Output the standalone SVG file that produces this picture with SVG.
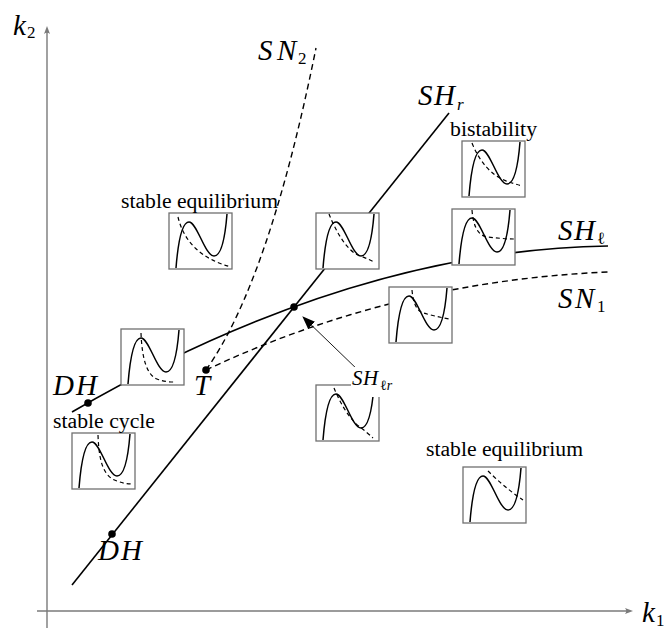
<svg xmlns="http://www.w3.org/2000/svg" xmlns:xlink="http://www.w3.org/1999/xlink" width="669" height="629" viewBox="0 0 669 629">
<style>
.axis{stroke:#7a7a7a;stroke-width:1.4;fill:none}
.axhead{fill:#7a7a7a;stroke:none}
.solid{stroke:#000;stroke-width:1.6;fill:none}
.dashed{stroke:#000;stroke-width:1.4;fill:none;stroke-dasharray:6 4}
.dot{fill:#000}
.box{fill:#fff;stroke:#707070;stroke-width:1.3}
.cub{stroke:#000;stroke-width:1.5;fill:none}
.idash{stroke:#000;stroke-width:1.2;fill:none;stroke-dasharray:4 3}
text{font-family:'Liberation Serif','DejaVu Serif','Noto Serif','Tinos','FreeSerif','Times New Roman',Times,serif;fill:#000}
.math{font-style:italic;font-size:29px}
.sub{font-style:normal;font-size:17px}
.subi{font-style:italic;font-size:17px}
.lbl{font-size:20px}
</style>
<defs>
<path id="cubic" class="cub" d="M7,55 C9,30 13,9 20,9 C28,9 36,43 45,43 C52,43 56,26 58,1"/>
<marker id="ah" markerWidth="14" markerHeight="10" refX="12" refY="5" orient="auto" markerUnits="userSpaceOnUse">
<path d="M0,0 L13,5 L0,10 Z" fill="#000"/>
</marker>
</defs>

<g id="axes">
<line class="axis" x1="47" y1="628" x2="47" y2="29"/>
<path class="axhead" d="M47,26 L44,34 Q47,31.5 50,34 Z"/>
<line class="axis" x1="37" y1="611" x2="630" y2="611"/>
<path class="axhead" d="M633,611 L625,608 Q627.5,611 625,614 Z"/>
<text class="math" x="13" y="35">k</text><text class="sub" x="27" y="38">2</text>
<text class="math" x="642" y="622">k</text><text class="sub" x="656" y="626">1</text>
</g>

<g id="connectors">
<path id="SHr" class="solid" d="M72,585 L449,113"/>
<path id="SHl" class="solid" d="M72,412 Q351,250 608,246"/>
<path id="SN1" class="dashed" d="M206,370 Q395,281 608,272"/>
<path id="SN2" class="dashed" d="M206,370 Q269,281 316,48"/>
<line x1="360" y1="372" x2="303" y2="317" stroke="#000" stroke-width="0.9" marker-end="url(#ah)"/>
</g>

<g id="points">
<circle class="dot" cx="88" cy="403" r="3.8"/>
<circle class="dot" cx="206" cy="370" r="3.8"/>
<circle class="dot" cx="294" cy="307" r="3.8"/>
<circle class="dot" cx="112" cy="534" r="3.8"/>
</g>

<g id="inset-stable-eq-top" transform="translate(169,213)">
<rect class="box" width="63" height="56"/><use xlink:href="#cubic" href="#cubic"/>
<path class="idash" d="M9,4 Q18,42 62,54"/>
</g>
<g id="inset-SHr" transform="translate(316,213)">
<rect class="box" width="63" height="56"/><use xlink:href="#cubic" href="#cubic"/>
<path class="idash" d="M13,1 C19,16 30,38 44,43 C50,45 54,47 58,49"/>
</g>
<g id="inset-bistability" transform="translate(462,141)">
<rect class="box" width="63" height="56"/><use xlink:href="#cubic" href="#cubic"/>
<path class="idash" d="M10,2 C18,22 30,34 42,39 C48,42 54,43 60,45"/>
</g>
<g id="inset-SHl" transform="translate(452,209)">
<rect class="box" width="63" height="56"/><use xlink:href="#cubic" href="#cubic"/>
<path class="idash" d="M20,1 C21,15 25,27 36,28 C45,29 54,30 62,30"/>
</g>
<g id="inset-SN1" transform="translate(389,287)">
<rect class="box" width="63" height="56"/><use xlink:href="#cubic" href="#cubic"/>
<path class="idash" d="M23,3 C24,15 27,22 32,25 C40,28 50,30 60,32"/>
</g>
<g id="inset-SHlr" transform="translate(316,385)">
<rect class="box" width="63" height="56"/><use xlink:href="#cubic" href="#cubic"/>
<path class="idash" d="M18,3 C24,18 34,35 44,42 C49,46 54,50 57,53"/>
</g>
<g id="inset-stable-eq-bottom" transform="translate(463,467)">
<rect class="box" width="63" height="56"/><use xlink:href="#cubic" href="#cubic"/>
<path class="idash" d="M25,4 C35,14 48,25 60,33"/>
</g>
<g id="inset-DH" transform="translate(121,329)">
<rect class="box" width="63" height="56"/><use xlink:href="#cubic" href="#cubic"/>
<path class="idash" d="M20,4 C21,30 26,46 36,50 C44,53 50,53 54,53"/>
</g>
<g id="inset-stable-cycle" transform="translate(72,433)">
<rect class="box" width="63" height="56"/><use xlink:href="#cubic" href="#cubic"/>
<path class="idash" d="M26,2 C27,30 32,44 45,48 C50,50 55,51 60,51"/>
</g>

<g id="labels">
<text class="math" x="258 277" y="60">SN</text><text class="sub" x="298" y="64">2</text>
<text class="math" x="418 434" y="105">SH</text><text class="subi" x="457" y="110">r</text>
<text class="math" x="558 574" y="240">SH</text><text class="sub" x="597" y="244">ℓ</text>
<text class="math" x="558 575" y="308">SN</text><text class="sub" x="597" y="312">1</text>
<text class="math" x="53 76" y="395">DH</text>
<text class="math" x="98 121" y="560">DH</text>
<text class="math" x="194" y="395">T</text>
<g id="label-SHlr">
<rect x="351" y="367" width="47" height="30" fill="#fff"/>
<text class="math" x="352 363" y="385" style="font-size:21px">SH</text><text class="sub" x="380" y="390" style="font-size:14px">ℓ<tspan style="font-style:italic">r</tspan></text>
</g>
<text class="lbl" x="121" y="208" textLength="157" lengthAdjust="spacingAndGlyphs">stable equilibrium</text>
<text class="lbl" x="450" y="136" textLength="87" lengthAdjust="spacingAndGlyphs">bistability</text>
<text class="lbl" x="53" y="428" textLength="102" lengthAdjust="spacingAndGlyphs">stable cycle</text>
<text class="lbl" x="426" y="456" textLength="157" lengthAdjust="spacingAndGlyphs">stable equilibrium</text>
</g>
</svg>
